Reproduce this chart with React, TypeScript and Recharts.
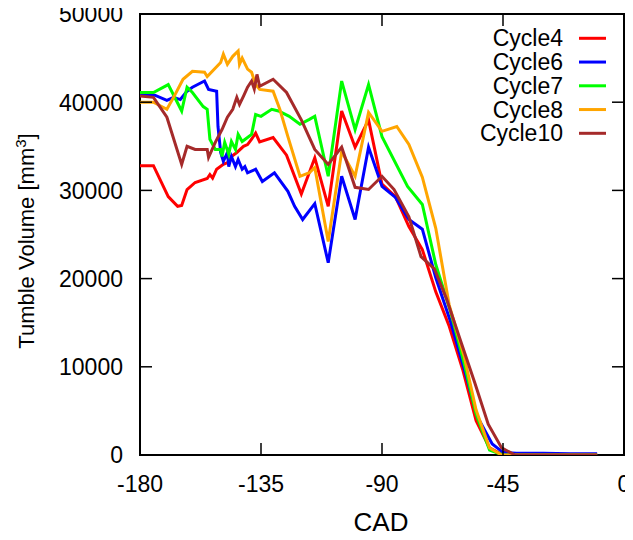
import React from 'react';
import { LineChart, Line, XAxis, YAxis, ReferenceArea, Legend } from 'recharts';

const FONT = '"Liberation Sans", Arial, Helvetica, sans-serif';

// Axis ticks
const xTicks = [-180, -135, -90, -45, 0];
const yTicks = [0, 10000, 20000, 30000, 40000, 50000];

// Cycle 4
const cad4 = [-180, -175, -169.5, -166, -164.5, -162.5, -159.5, -155, -154, -153, -151.5, -149, -147, -146, -144, -141.5, -140, -138.5, -137, -135.5, -130.5, -125.5, -120, -115, -110, -105, -100, -95, -90, -85, -80, -75, -70, -65, -60, -55, -50, -45, -40, -30, -20, -10];
const vol4 = [32800, 32800, 29300, 28200, 28300, 30100, 30900, 31350, 31800, 31400, 32400, 32950, 33200, 33850, 34300, 35000, 35200, 35800, 36500, 35500, 36000, 34000, 29600, 33700, 28200, 39000, 34900, 38000, 30700, 29300, 25900, 23300, 18500, 14600, 9700, 3900, 800, 0, 0, 0, 0, 0];

// Cycle 6
const cad6 = [-180, -174.5, -170, -167.5, -165, -162.5, -160.5, -156, -154.5, -151.5, -151, -150, -149, -147.5, -147, -146, -144.5, -143.5, -142, -141, -140, -137, -134.5, -130, -125, -122.5, -119.5, -115, -110, -105, -100, -95, -90, -85, -80, -75, -70, -64.5, -59, -54.5, -49, -45, -40, -30, -20, -10];
const vol6 = [40900, 40800, 40200, 40550, 40300, 41250, 41700, 42400, 41450, 41250, 37250, 34300, 33300, 34300, 32700, 33850, 32700, 33500, 32400, 32700, 32000, 32400, 31000, 32000, 29900, 28200, 26700, 28500, 21800, 31600, 26700, 34900, 30450, 29200, 26700, 25600, 20100, 15100, 9300, 4300, 1250, 300, 200, 200, 150, 150];

// Cycle 7
const cad7 = [-180, -175, -169.5, -164.5, -162.5, -160.5, -156.5, -155, -154, -152, -150, -149.5, -148.5, -147, -146, -144.5, -143.5, -142, -140, -138.5, -137, -135, -131, -128.5, -124.5, -120.5, -117, -115, -110, -105, -100, -95, -90, -80.5, -75, -70, -64.5, -59.5, -55, -50, -45, -40, -30, -20, -10];
const vol7 = [41100, 41100, 42000, 39000, 41700, 41100, 39500, 39200, 35800, 34650, 34650, 33850, 35450, 34100, 35550, 34650, 36350, 35550, 36000, 36350, 38600, 38400, 39200, 39000, 38400, 37500, 38050, 38400, 31600, 42400, 36900, 42000, 36100, 30450, 28400, 21600, 16250, 10450, 4650, 550, 0, 0, 0, 0, 0];

// Cycle 8
const cad8 = [-180, -175, -170, -167.5, -164, -160.5, -156, -155, -150, -149, -147.5, -145.5, -143.5, -143, -142, -140, -138.5, -137, -135.5, -130.5, -128, -125, -120.5, -117, -115, -110, -105, -100, -95, -90, -84.5, -80, -75, -70, -65, -59.5, -55, -50, -45.5, -40, -30, -20, -10];
const vol8 = [40000, 40000, 39200, 40550, 42600, 43500, 43400, 42900, 44500, 45450, 44300, 45200, 45800, 44300, 45000, 43750, 43400, 42000, 41450, 41250, 39200, 36100, 31600, 32000, 32600, 24200, 34400, 31600, 38850, 36700, 37250, 35200, 31500, 25700, 17000, 11250, 5100, 800, 0, 0, 0, 0, 0];

// Cycle 10
const cad10 = [-180, -175, -170, -164.5, -162.5, -159.5, -155, -154.5, -152, -149.5, -147.5, -145.5, -144, -143, -141.5, -140, -138.5, -137.5, -136.5, -135.5, -130.5, -125.5, -120, -115, -110, -105, -100, -95, -90, -85.5, -80, -75.5, -70.5, -66, -60.5, -55.5, -50.5, -45.5, -40.5, -30, -20, -10];
const vol10 = [40700, 40550, 38300, 32950, 35000, 34650, 34650, 33750, 35450, 36900, 38300, 39200, 40550, 39750, 40700, 41700, 42400, 41500, 43150, 41800, 42600, 41100, 38000, 34650, 32950, 34900, 30350, 30100, 31600, 30100, 27000, 22500, 21100, 17700, 12700, 8200, 3500, 800, 0, 0, 0, 0];

const seriesNames = ['Cycle4', 'Cycle6', 'Cycle7', 'Cycle8', 'Cycle10'];
const seriesColors = ['#ff0000', '#0000ff', '#00ff00', '#ffa500', '#a52a2a'];
const seriesCad = [cad4, cad6, cad7, cad8, cad10];
const seriesVol = [vol4, vol6, vol7, vol8, vol10];

const zip = (cad: number[], vol: number[]) => cad.map((c, i) => ({ cad: c, vol: vol[i] }));

// Chart geometry
const W = 633;
const H = 540;
const PLOT = { left: 140, right: 624, top: 14, bottom: 455 };
const TICK_LEN = 12;

const XTick = (props: any) => {
  const { x, payload } = props;
  return (
    <g>
      <line x1={x} x2={x} y1={PLOT.bottom} y2={PLOT.bottom - TICK_LEN} stroke="#000" strokeWidth={1.5} />
      <line x1={x} x2={x} y1={PLOT.top} y2={PLOT.top + TICK_LEN} stroke="#000" strokeWidth={1.5} />
      <text x={x} y={PLOT.bottom + 37} textAnchor="middle" fontSize={23} fontFamily={FONT} fill="#000">
        {payload.value}
      </text>
    </g>
  );
};

const YTick = (props: any) => {
  const { y, payload } = props;
  return (
    <g>
      <line x1={PLOT.left} x2={PLOT.left + TICK_LEN} y1={y} y2={y} stroke="#000" strokeWidth={1.5} />
      <line x1={PLOT.right - TICK_LEN} x2={PLOT.right} y1={y} y2={y} stroke="#000" strokeWidth={1.5} />
      <text x={PLOT.left - 17} y={y + 8.3} textAnchor="end" fontSize={23} fontFamily={FONT} fill="#000">
        {payload.value}
      </text>
    </g>
  );
};

const renderXTitle = () => (
  <text x={381} y={531} textAnchor="middle" fontSize={26} fontFamily={FONT} fill="#000">
    CAD
  </text>
);

const renderYTitle = () => (
  <text
    x={34}
    y={241}
    transform="rotate(-90, 34, 241)"
    textAnchor="middle"
    fontSize={22}
    fontFamily={FONT}
    fill="#000"
  >
    Tumble Volume [mm<tspan dy={-8} fontSize={15}>3</tspan>
    <tspan dy={8}>]</tspan>
  </text>
);

const renderLegend = () => (
  <svg width={210} height={130}>
    {seriesNames.map((name, i) => {
      const cy = 18.3 + i * 23.75;
      return (
        <g key={name}>
          <text x={155} y={cy + 8} textAnchor="end" fontSize={23} fontFamily={FONT} fill="#000">
            {name}
          </text>
          <line x1={171} x2={198} y1={cy} y2={cy} stroke={seriesColors[i]} strokeWidth={3} />
        </g>
      );
    })}
  </svg>
);

export default function App() {
  return (
    <div style={{ margin: -8 }}>
      <LineChart width={W} height={H} margin={{ top: 14, right: 9, bottom: 0, left: 0 }}>
        <XAxis
          dataKey="cad"
          type="number"
          domain={[-180, 0]}
          ticks={xTicks}
          allowDataOverflow
          height={85}
          axisLine={false}
          tickLine={false}
          tick={XTick}
          label={renderXTitle}
        />
        <YAxis
          type="number"
          domain={[0, 50000]}
          ticks={yTicks}
          allowDataOverflow
          width={140}
          axisLine={false}
          tickLine={false}
          tick={YTick}
          label={renderYTitle}
        />
        <ReferenceArea x1={-180} x2={0} y1={0} y2={50000} fill="none" stroke="#000" strokeWidth={2} />
        {seriesNames.map((name, i) => (
          <Line
            key={name}
            name={name}
            data={zip(seriesCad[i], seriesVol[i])}
            dataKey="vol"
            type="linear"
            stroke={seriesColors[i]}
            strokeWidth={3}
            dot={false}
            isAnimationActive={false}
          />
        ))}
        <Legend
          layout="horizontal"
          verticalAlign="middle"
          align="center"
          content={renderLegend}
          wrapperStyle={{ position: 'absolute', top: 20, left: 408, width: 210, height: 130 }}
        />
      </LineChart>
    </div>
  );
}
